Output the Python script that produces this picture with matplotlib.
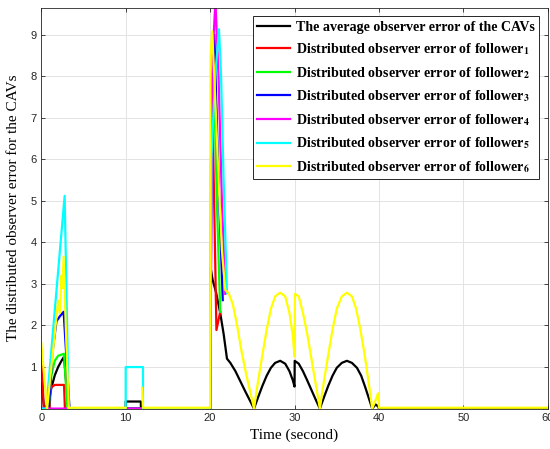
import numpy as np
import matplotlib
matplotlib.use("Agg")
import matplotlib.pyplot as plt

plt.rcParams['mathtext.fontset'] = 'stix'

# average observer error of the CAVs (black)
t_avg = [0, 0.35, 0.9, 1.2, 1.6, 2.0, 2.4, 2.7, 3.2, 10.0, 10.0, 11.8, 11.8, 20.0, 20.05,
         20.3, 20.7, 21.2, 21.6, 22.0, 22.4, 23.0, 23.6, 24.2, 24.7, 25.2,
         25.7, 26.2, 26.7, 27.2, 27.7, 28.3, 28.9, 29.4, 29.8, 30.0, 30.02,
         30.5, 31.0, 31.5, 32.0, 32.5, 33.0,
         33.5, 34.0, 34.5, 35.0, 35.6, 36.2, 36.8, 37.4, 37.9, 38.4, 38.8, 39.2,
         39.6, 39.9, 40.0, 60]
e_avg = [0.6, 0, 0.15, 0.5, 0.8, 1.0, 1.15, 1.25, 0, 0, 0.17, 0.17, 0, 0, 3.4,
         3.1, 2.8, 2.3, 1.8, 1.2, 1.1, 0.9, 0.65, 0.4, 0.2, 0,
         0.28, 0.55, 0.79, 0.98, 1.1, 1.15, 1.08, 0.9, 0.68, 0.53, 1.15,
         1.08, 0.9, 0.68, 0.45, 0.22, 0,
         0.28, 0.55, 0.79, 0.98, 1.1, 1.15, 1.1, 0.98, 0.79, 0.5, 0.25, 0,
         0.1, 0.05, 0, 0]

# follower 1 (red)
t_f1 = [0, 0.3, 1.0, 1.1, 1.6, 2.7, 2.8, 20.0, 20.1, 20.3, 20.75, 21.2]
e_f1 = [1.4, 0, 0, 0.5, 0.57, 0.57, 0, 0, 6.0, 7.0, 1.89, 2.33]

# follower 2 (green)
t_f2 = [0, 0.9, 1.2, 1.6, 2.0, 2.7, 3.1, 20.0, 20.15, 20.4, 20.8, 21.2]
e_f2 = [0, 0, 0.8, 1.15, 1.27, 1.32, 0, 0, 7.0, 8.5, 5.0, 2.33]

# follower 3 (blue)
t_f3 = [0, 0.9, 1.3, 1.8, 2.2, 2.65, 3.35, 20.0, 20.2, 20.5, 21.0, 21.5]
e_f3 = [0, 0, 1.3, 2.1, 2.22, 2.33, 0, 0, 7.5, 9.0, 5.5, 2.61]

# follower 4 (magenta)
t_f4 = [0, 20.0, 20.3, 20.63, 21.0, 21.4, 21.8]
e_f4 = [0, 0, 8.5, 9.8, 8.0, 5.0, 2.76]

# follower 5 (cyan)
t_f5 = [0, 0.6, 2.77, 3.25, 10.0, 10.0, 12.05, 12.05, 20.0, 20.15, 20.6, 21.05,
        21.3, 21.6, 22.0]
e_f5 = [0, 0, 5.12, 0, 0, 1.0, 1.0, 0, 0, 6.0, 8.0, 9.13, 8.0, 5.5, 2.78]

# follower 6 (yellow)
t_f6 = [0, 0.7, 1.0, 1.5, 2.0, 2.2, 2.4, 2.5, 2.65, 2.9, 3.25, 3.3, 10.0, 10.0,
        11.95, 11.95, 12.05, 20.0, 20.05, 20.25, 20.6, 21.0, 21.4, 21.8, 22.2,
        22.7, 23.2, 23.7, 24.2, 24.7, 25.2,
        25.7, 26.2, 26.7, 27.2, 27.7, 28.3, 28.9, 29.4, 29.8, 30.0, 30.05,
        30.5, 31.0, 31.5, 32.0, 32.5, 33.0,
        33.5, 34.0, 34.5, 35.0, 35.6, 36.2, 36.8, 37.3, 37.8, 38.3, 38.8, 39.2,
        39.5, 39.9, 40.0, 60]
e_f6 = [1.57, 0, 0.6, 1.6, 2.6, 2.3, 3.2, 2.9, 3.66, 2.0, 0, 0.02, 0.02, np.nan,
        np.nan, 0.5, 0.02, 0.02, 8.5, 9.08, 7.5, 5.5, 3.8, 2.85, 2.78,
        2.5, 2.0, 1.4, 0.9, 0.45, 0,
        0.68, 1.3, 1.9, 2.4, 2.7, 2.79, 2.7, 2.3, 1.75, 1.25, 2.76,
        2.7, 2.3, 1.8, 1.2, 0.6, 0,
        0.68, 1.3, 1.9, 2.4, 2.7, 2.79, 2.7, 2.4, 1.9, 1.3, 0.6, 0,
        0.15, 0.37, 0.02, 0.02]

series = [
    (t_avg, e_avg, 'k', 'The average observer error of the CAVs'),
    (t_f1, e_f1, '#ff0000', r'Distributed observer error of follower$_{\mathbf{1}}$'),
    (t_f2, e_f2, '#00ff00', r'Distributed observer error of follower$_{\mathbf{2}}$'),
    (t_f3, e_f3, '#0000ff', r'Distributed observer error of follower$_{\mathbf{3}}$'),
    (t_f4, e_f4, '#ff00ff', r'Distributed observer error of follower$_{\mathbf{4}}$'),
    (t_f5, e_f5, '#00ffff', r'Distributed observer error of follower$_{\mathbf{5}}$'),
    (t_f6, e_f6, '#ffff00', r'Distributed observer error of follower$_{\mathbf{6}}$'),
]

fig = plt.figure(figsize=(5.5, 4.49), dpi=100)
ax = fig.add_axes([0.075, 0.09, 0.921, 0.893])

for t, e, c, lab in series:
    ax.plot(t, e, color=c, lw=1.6, label=lab)

ax.set_xlim(0, 60)
ax.set_ylim(0, 9.65)
ax.set_xticks([0, 10, 20, 30, 40, 50, 60])
ax.set_yticks(range(1, 10))
ax.grid(True, color='#e3e3e3', lw=0.7)
ax.set_axisbelow(True)
ax.tick_params(direction='in', top=True, right=True, length=3, width=0.6,
               colors='#262626', labelsize=8)
for lbl in ax.get_xticklabels() + ax.get_yticklabels():
    lbl.set_family('Liberation Sans')
for s in ax.spines.values():
    s.set_color('#262626')
    s.set_linewidth(0.6)

ax.set_xlabel('Time (second)', family='Liberation Serif', fontsize=11, labelpad=4)
ax.set_ylabel('The distributed observer error for the CAVs', family='Liberation Serif',
              fontsize=11, labelpad=7)

leg = ax.legend(loc='upper right', bbox_to_anchor=(0.983, 0.978),
                prop={'family': 'Liberation Serif', 'weight': 'bold', 'size': 10.1},
                fancybox=False, edgecolor='#262626', framealpha=1,
                handlelength=2.4, labelspacing=0.55, borderpad=0.3,
                handletextpad=0.4, borderaxespad=0)
leg.get_frame().set_linewidth(0.7)

fig.savefig('out.png', dpi=100)
